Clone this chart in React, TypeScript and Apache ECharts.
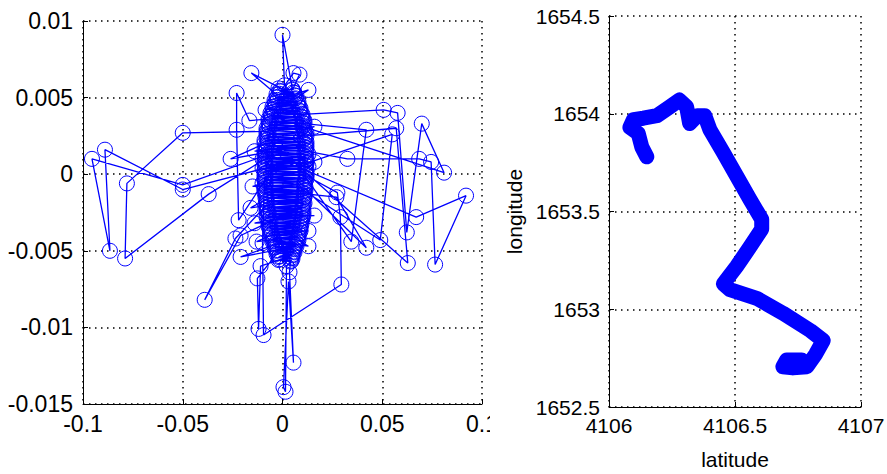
import React, { useEffect, useRef } from "react";
import * as echarts from "echarts";

// Left panel: drift trajectory (x, y) in visiting order
const driftPoints: [number, number][] = [
  [-0.002, 0.0056], [0.005, 0.0055],
  [0.0085, 0.0065], [0.0055, 0.0066],
  [-0.001, 0.0054], [0.006, 0.0053], [-0.003, 0.0052],
  [-0.0156, 0.0066],
  [0.007, 0.0051], [-0.003, 0.005], [0.006, 0.0049],
  [0.013, 0.0055],
  [-0.004, 0.0048], [0.008, 0.0047], [-0.004, 0.0046], [0.008, 0.0045], [-0.005, 0.0044],
  [-0.0085, 0.0042],
  [0.009, 0.0043], [-0.005, 0.0042], [0.009, 0.0041], [-0.006, 0.004], [0.01, 0.0039],
  [0.0507, 0.0042], [0.0577, 0.004], [0.0623, -0.0038], [0.0698, 0.0033], [0.081, 0.0001],
  [-0.006, 0.0038], [0.01, 0.0037], [-0.007, 0.0036],
  [-0.0166, 0.0035], [-0.023, 0.0053], [-0.023, 0.0029], [-0.022, -0.003],
  [0.011, 0.0035], [-0.007, 0.0034], [0.011, 0.0033],
  [0.042, 0.0029], [0.0345, -0.0044],
  [-0.007, 0.0032], [0.01, 0.0031], [-0.008, 0.003], [0.011, 0.0029],
  [0.016, 0.0031],
  [-0.008, 0.0028],
  [-0.05, 0.0027], [-0.078, -0.0006], [-0.0789, -0.0055], [-0.037, -0.0013],
  [0.012, 0.0027], [-0.008, 0.0026], [0.012, 0.0025],
  [0.057, 0.003], [0.0628, -0.0058],
  [-0.008, 0.0024], [0.011, 0.0023], [-0.009, 0.0022], [0.012, 0.0021], [-0.009, 0.002],
  [-0.026, 0.001],
  [0.012, 0.0019], [-0.008, 0.0018], [0.012, 0.0017], [-0.009, 0.0016],
  [-0.014, 0.0015],
  [0.012, 0.0015],
  [0.0325, 0.001], [0.0685, 0.001], [0.0745, 0.0008], [0.0765, -0.0059], [0.092, -0.0014], [0.067, -0.0028],
  [-0.009, 0.0014], [0.013, 0.0013], [-0.009, 0.0012],
  [-0.05, -0.0007], [-0.0955, 0.001], [-0.0865, -0.005], [-0.089, 0.0016], [-0.05, -0.001],
  [0.012, 0.0011], [-0.01, 0.001], [0.012, 0.0009], [-0.009, 0.0008], [0.012, 0.0007],
  [0.055, 0.0026], [0.049, -0.0043],
  [-0.009, 0.0006], [0.013, 0.0005], [-0.01, 0.0004], [0.012, 0.0003],
  [0.016, 0.0008],
  [-0.009, 0.0002], [0.012, 0.0001], [-0.009, 0.0], [0.012, -0.0001],
  [0.0275, -0.0012], [0.029, -0.0028], [0.0295, -0.0072], [-0.0095, -0.0105], [-0.01, -0.0045],
  [-0.009, -0.0002], [0.012, -0.0003], [-0.009, -0.0004], [0.011, -0.0005], [-0.01, -0.0006],
  [-0.015, -0.0008],
  [0.011, -0.0007], [-0.009, -0.0008], [0.011, -0.0009],
  [0.042, -0.0048], [0.027, -0.0015],
  [-0.009, -0.001], [0.011, -0.0011], [-0.009, -0.0012], [0.011, -0.0013], [-0.008, -0.0014],
  [0.011, -0.0015], [-0.008, -0.0016],
  [-0.016, -0.0022],
  [0.01, -0.0017], [-0.008, -0.0018], [0.011, -0.0019], [-0.008, -0.002],
  [-0.0236, -0.0042], [-0.039, -0.0082], [-0.021, -0.004],
  [0.01, -0.0021], [-0.008, -0.0022], [0.01, -0.0023], [-0.008, -0.0024], [0.01, -0.0025],
  [-0.007, -0.0026], [0.01, -0.0027],
  [0.016, -0.0027],
  [-0.008, -0.0028], [0.01, -0.0029], [-0.007, -0.003],
  [-0.014, -0.0032],
  [0.009, -0.0031], [-0.007, -0.0032], [0.009, -0.0033], [-0.007, -0.0034], [0.009, -0.0035],
  [-0.006, -0.0036], [0.009, -0.0037],
  [0.013, -0.0037],
  [-0.006, -0.0038], [0.008, -0.0039], [-0.006, -0.004],
  [-0.013, -0.0044],
  [0.008, -0.0041], [-0.005, -0.0042], [0.008, -0.0043],
  [0.013, -0.0047],
  [-0.005, -0.0044], [0.007, -0.0045], [-0.004, -0.0046],
  [-0.021, -0.0054],
  [0.007, -0.0047], [-0.004, -0.0048], [0.006, -0.0049], [-0.003, -0.005], [0.006, -0.0051],
  [-0.003, -0.0052],
  [-0.0126, -0.0068], [-0.012, -0.0101], [-0.011, -0.006],
  [0.005, -0.0053], [-0.002, -0.0054], [0.005, -0.0055], [-0.002, -0.0056], [0.004, -0.0057],
  [0.0035, -0.0064], [0.0055, -0.0123], [0.003, -0.007], [0.0005, -0.0139], [0.0015, -0.0142],
  [0.002, -0.006],
  // second, upward pass through the dense core
  [0.0045, -0.00565], [-0.0015, -0.00555], [0.0045, -0.00545], [-0.0015, -0.00535],
  [0.005, -0.00525], [-0.0025, -0.00515], [0.0055, -0.00505], [-0.0025, -0.00495],
  [0.0055, -0.00485], [-0.0035, -0.00475], [0.0065, -0.00465], [-0.0035, -0.00455],
  [0.0065, -0.00445], [-0.0045, -0.00435], [0.0075, -0.00425], [-0.0045, -0.00415],
  [0.0075, -0.00405], [-0.0055, -0.00395], [0.0085, -0.00385], [-0.0055, -0.00375],
  [0.0085, -0.00365], [-0.0065, -0.00355], [0.009, -0.00345], [-0.0065, -0.00335],
  [0.0095, -0.00325], [-0.006, -0.00315], [0.0095, -0.00305], [-0.0065, -0.00295],
  [0.01, -0.00285], [-0.0075, -0.00275], [0.0105, -0.00265], [-0.007, -0.00255],
  [0.0105, -0.00245], [-0.0075, -0.00235], [0.01, -0.00225], [-0.0075, -0.00215],
  [0.0105, -0.00205], [-0.0085, -0.00195], [0.0105, -0.00185], [-0.008, -0.00175],
  [0.0105, -0.00165], [-0.0085, -0.00155], [0.011, -0.00145], [-0.0085, -0.00135],
  [0.0105, -0.00125], [-0.0085, -0.00115], [0.0115, -0.00105], [-0.009, -0.00095],
  [0.0115, -0.00085], [-0.0085, -0.00075], [0.011, -0.00065], [-0.0085, -0.00055],
  [0.0115, -0.00045], [-0.009, -0.00035], [0.0115, -0.00025], [-0.0085, -0.00015],
  [0.012, -0.00005], [-0.0085, 0.00005], [0.0115, 0.00015], [-0.009, 0.00025],
  [0.0115, 0.00035], [-0.0085, 0.00045], [0.0115, 0.00055], [-0.0085, 0.00065],
  [0.012, 0.00075], [-0.009, 0.00085], [0.0115, 0.00095], [-0.0085, 0.00105],
  [0.0115, 0.00115], [-0.0085, 0.00125], [0.011, 0.00135], [-0.0085, 0.00145],
  [0.0115, 0.00155], [-0.008, 0.00165], [0.0115, 0.00175], [-0.0085, 0.00185],
  [0.0115, 0.00195], [-0.0075, 0.00205], [0.0115, 0.00215], [-0.0075, 0.00225],
  [0.011, 0.00235], [-0.0075, 0.00245], [0.0115, 0.00255], [-0.007, 0.00265],
  [0.011, 0.00275], [-0.0075, 0.00285], [0.0105, 0.00295], [-0.0065, 0.00305],
  [0.0105, 0.00315], [-0.0065, 0.00325], [0.01, 0.00335], [-0.006, 0.00345],
  [0.0105, 0.00355], [-0.0055, 0.00365], [0.0095, 0.00375], [-0.0055, 0.00385],
  [0.0095, 0.00395], [-0.0045, 0.00405], [0.0085, 0.00415], [-0.0045, 0.00425],
  [0.0085, 0.00435], [-0.0035, 0.00445], [0.0075, 0.00455], [-0.0035, 0.00465],
  [0.0075, 0.00475], [-0.0025, 0.00485], [0.0065, 0.00495], [-0.0025, 0.00505],
  [0.006, 0.00515], [-0.0015, 0.00525], [0.0055, 0.00535], [-0.0015, 0.00545],
  [0.005, 0.00555],
  [0.0, 0.0091], [0.001, 0.0058],
];

const driftXTicks = { min: -0.1, max: 0.1, interval: 0.05 };
const driftYTicks = { min: -0.015, max: 0.01, interval: 0.005 };

// Right panel: track (latitude, longitude)
const trackLatitude = [
  4106.15, 4106.13, 4106.116, 4106.083, 4106.097, 4106.136, 4106.19, 4106.242, 4106.279,
  4106.308, 4106.32, 4106.35, 4106.38, 4106.4, 4106.454, 4106.507, 4106.56, 4106.606,
  4106.606, 4106.56, 4106.507, 4106.454, 4106.48, 4106.586, 4106.69, 4106.8, 4106.85,
  4106.82, 4106.785, 4106.73, 4106.69, 4106.705, 4106.765,
];
const trackLongitude = [
  1653.78, 1653.83, 1653.9, 1653.93, 1653.97, 1653.977, 1653.99, 1654.036, 1654.07,
  1654.036, 1653.95, 1653.99, 1653.99, 1653.92, 1653.8, 1653.68, 1653.56, 1653.46,
  1653.41, 1653.32, 1653.22, 1653.13, 1653.1, 1653.056, 1652.98, 1652.89, 1652.84,
  1652.77, 1652.706, 1652.7, 1652.706, 1652.74, 1652.74,
];
const trackXTicks = { min: 4106, max: 4107, interval: 0.5 };
const trackYTicks = { min: 1652.5, max: 1654.5, interval: 0.5 };

const FONT = "'Liberation Sans', Arial, Helvetica, sans-serif";
const BLUE = "#0000ff";

function axisCommon(fontSize: number, margin: number) {
  return {
    type: "value" as const,
    axisLine: { show: true, onZero: false, lineStyle: { color: "#000", width: 1 } },
    axisTick: { show: true, inside: true, length: 5, lineStyle: { color: "#000" } },
    axisLabel: {
      color: "#000",
      fontSize,
      fontFamily: FONT,
      margin,
      formatter: (v: number) => String(v),
    },
    splitLine: { show: true, lineStyle: { color: "#000", width: 1.5, type: [1.5, 4.5] } },
  };
}

export default function App() {
  const leftRef = useRef<HTMLDivElement>(null);
  const rightRef = useRef<HTMLDivElement>(null);

  useEffect(() => {
    const left = echarts.init(leftRef.current!, undefined, { renderer: "svg" });
    const right = echarts.init(rightRef.current!, undefined, { renderer: "svg" });

    left.setOption({
      animation: false,
      backgroundColor: "#fff",
      grid: { left: 83, right: 8, top: 21, bottom: 70, outerBoundsMode: "none" },
      xAxis: { ...axisCommon(23, 8), ...driftXTicks },
      yAxis: { ...axisCommon(23, 10), ...driftYTicks },
      series: [
        {
          type: "line",
          data: driftPoints,
          symbol: "circle",
          symbolSize: 15,
          showAllSymbol: true,
          itemStyle: { color: "rgba(0,0,0,0)", borderColor: BLUE, borderWidth: 1 },
          lineStyle: { color: BLUE, width: 1.3 },
          emphasis: { disabled: true },
        },
      ],
    });

    right.setOption({
      animation: false,
      backgroundColor: "#fff",
      grid: { left: 119, right: 26, top: 16, bottom: 67, outerBoundsMode: "none" },
      xAxis: {
        ...axisCommon(21, 8),
        ...trackXTicks,
        name: "latitude",
        nameLocation: "middle",
        nameGap: 42,
        nameTextStyle: { color: "#000", fontSize: 21, fontFamily: FONT },
      },
      yAxis: {
        ...axisCommon(21, 9),
        ...trackYTicks,
        name: "longitude",
        nameLocation: "middle",
        nameGap: 82,
        nameTextStyle: { color: "#000", fontSize: 21, fontFamily: FONT },
      },
      series: [
        {
          type: "line",
          data: trackLatitude.map((lat, i) => [lat, trackLongitude[i]]),
          symbol: "none",
          lineStyle: { color: BLUE, width: 15, cap: "round", join: "round" },
          emphasis: { disabled: true },
        },
      ],
    });

    return () => {
      left.dispose();
      right.dispose();
    };
  }, []);

  return (
    <div style={{ position: "absolute", left: 0, top: 0, width: 887, height: 474, background: "#fff" }}>
      <div ref={leftRef} style={{ position: "absolute", left: 0, top: 0, width: 490, height: 474, overflow: "hidden" }} />
      <div ref={rightRef} style={{ position: "absolute", left: 490, top: 0, width: 397, height: 474 }} />
    </div>
  );
}
